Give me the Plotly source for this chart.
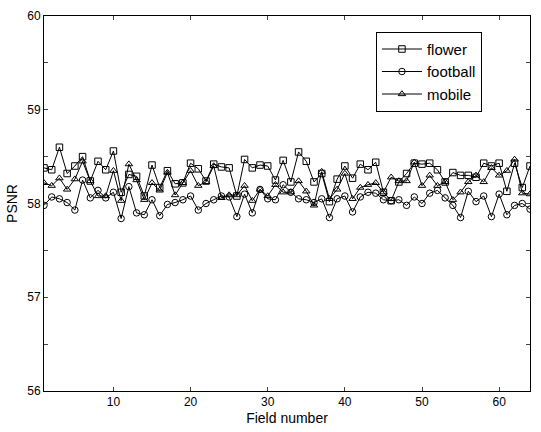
import plotly.graph_objects as go

fields = list(range(1, 65))

flower = [58.38, 58.36, 58.60, 58.32, 58.40, 58.50, 58.24, 58.45, 58.36, 58.56,
          58.12, 58.31, 58.29, 58.08, 58.41, 58.17, 58.35, 58.21, 58.22, 58.43,
          58.37, 58.24, 58.42, 58.39, 58.38, 58.08, 58.47, 58.38, 58.41, 58.40,
          58.25, 58.46, 58.23, 58.55, 58.45, 58.23, 58.32, 58.02, 58.26, 58.40,
          58.27, 58.42, 58.36, 58.44, 58.12, 58.03, 58.23, 58.32, 58.43, 58.42,
          58.43, 58.36, 58.23, 58.33, 58.30, 58.30, 58.28, 58.43, 58.40, 58.43,
          58.13, 58.43, 58.17, 58.40]

football = [57.98, 58.07, 58.05, 58.01, 57.93, 58.25, 58.06, 58.14, 58.06, 58.12,
            57.84, 58.18, 57.90, 57.88, 58.04, 57.87, 57.99, 58.01, 58.04, 58.08,
            57.93, 58.00, 58.04, 58.08, 58.07, 57.86, 58.10, 57.90, 58.15, 58.05,
            58.04, 58.20, 58.12, 58.05, 58.04, 58.01, 58.05, 57.85, 58.05, 58.08,
            57.91, 58.07, 58.12, 58.11, 58.04, 58.03, 58.04, 57.98, 58.07, 58.00,
            58.11, 58.14, 58.06, 57.98, 57.85, 58.13, 58.02, 58.08, 57.86, 58.10,
            57.88, 57.98, 58.00, 57.94]

mobile = [58.22, 58.19, 58.27, 58.15, 58.26, 58.45, 58.24, 58.08, 58.08, 58.35,
          58.03, 58.42, 58.25, 58.04, 58.22, 58.14, 58.33, 58.09, 58.22, 58.35,
          58.19, 58.23, 58.40, 58.06, 58.09, 58.09, 58.19, 58.03, 58.15, 58.08,
          58.20, 58.12, 58.12, 58.24, 58.13, 57.98, 58.34, 58.05, 58.15, 58.32,
          58.05, 58.17, 58.20, 58.22, 58.12, 58.28, 58.24, 58.24, 58.44, 58.19,
          58.30, 58.19, 58.23, 58.04, 58.12, 58.23, 58.30, 58.23, 58.38, 58.30,
          58.35, 58.47, 58.11, 58.10]

x_ticks = [10, 20, 30, 40, 50, 60]
y_ticks = [56, 57, 58, 59, 60]

series = [("flower", flower, "square-open"),
          ("football", football, "circle-open"),
          ("mobile", mobile, "triangle-up-open")]

fig = go.Figure()
for name, vals, sym in series:
    fig.add_trace(go.Scatter(
        x=fields, y=vals, name=name, mode="lines+markers",
        line=dict(color="black", width=1),
        marker=dict(symbol=sym, size=6.5, color="black", line=dict(width=1, color="black")),
    ))

font_family = "Liberation Sans, Arial, sans-serif"
fig.update_layout(
    width=541, height=432,
    margin=dict(l=44, r=11, t=9, b=38),
    paper_bgcolor="white", plot_bgcolor="white",
    font=dict(family=font_family, color="black", size=12),
    showlegend=True,
    legend=dict(x=0.683, y=0.958, xanchor="left", yanchor="top",
                bgcolor="white", bordercolor="black", borderwidth=1,
                font=dict(size=15, family=font_family),
                tracegroupgap=0, itemwidth=40),
    xaxis=dict(range=[1, 64], tickvals=x_ticks, ticks="inside", ticklen=4,
               showline=True, linecolor="black", linewidth=1, mirror="ticks",
               showgrid=False, zeroline=False,
               tickfont=dict(size=12),
               title=dict(text="Field number", font=dict(size=14), standoff=4)),
    yaxis=dict(range=[56, 60], tickvals=y_ticks, ticks="inside", ticklen=4,
               showline=True, linecolor="black", linewidth=1, mirror="ticks",
               showgrid=False, zeroline=False,
               tickfont=dict(size=12),
               minor=dict(dtick=0.5, tick0=56, ticks="inside", ticklen=4, showgrid=False),
               title=dict(text="PSNR", font=dict(size=14), standoff=6)),
)

fig.write_html("out.html", config={"displayModeBar": False},
               post_script="document.body.style.margin='0';")
